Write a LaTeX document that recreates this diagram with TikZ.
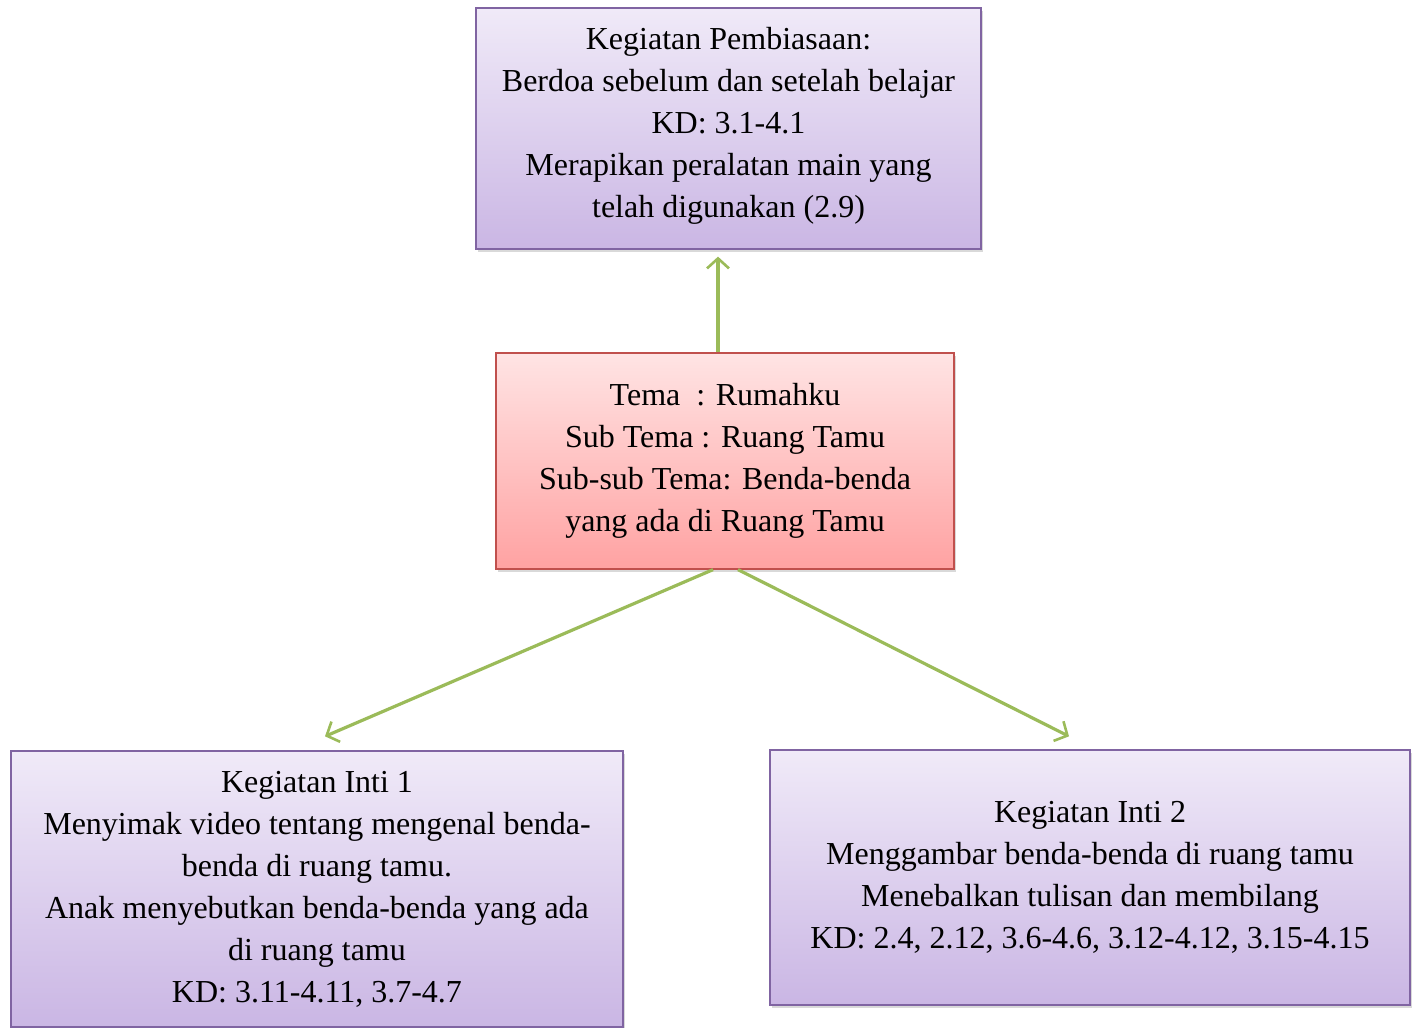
\documentclass[tikz,border=0pt]{standalone}
\usepackage{fontspec}
\setmainfont{Liberation Serif}
\usetikzlibrary{arrows.meta,shadows}
\definecolor{garisungu}{HTML}{8064A2}
\definecolor{ungumuda}{HTML}{F0EAF8}
\definecolor{ungutua}{HTML}{CAB6E4}
\definecolor{garismerah}{HTML}{C0504D}
\definecolor{merahmuda}{HTML}{FFE4E4}
\definecolor{merahtua}{HTML}{FFA2A2}
\definecolor{hijau}{HTML}{9BBB59}
\begin{document}
\begin{tikzpicture}[x=1pt,y=-1pt,
	kotak/.style={draw=garisungu,line width=1.3pt,top color=ungumuda,bottom color=ungutua,
		align=center,inner sep=0pt,font=\fontsize{32}{42}\selectfont,
		drop shadow={shadow xshift=2pt,shadow yshift=-3pt,opacity=0.3}},
	tema/.style={kotak,draw=garismerah,top color=merahmuda,bottom color=merahtua},
	panah/.style={draw=hijau,line width=3.2pt,-{Straight Barb[length=10pt,width=22pt,line width=2.6pt]}}
	]
	\useasboundingbox (0,0) rectangle (1419,1028);
	
	\node[kotak,minimum width=505pt,minimum height=241pt,text depth=12pt] (atas) at (728.5,128.5)
	{Kegiatan Pembiasaan:\\Berdoa sebelum dan setelah belajar\\KD: 3.1-4.1\\Merapikan peralatan main yang\\telah digunakan (2.9)};
	\node[tema,minimum width=458pt,minimum height=216pt] (pusat) at (725,461)
	{Tema~~: Rumahku\\Sub Tema : Ruang Tamu\\Sub-sub Tema: Benda-benda\\yang ada di Ruang Tamu};
	\node[kotak,minimum width=612pt,minimum height=276pt] (inti1) at (317,889)
	{Kegiatan Inti 1\\Menyimak video tentang mengenal benda-\\benda di ruang tamu.\\Anak menyebutkan benda-benda yang ada\\di ruang tamu\\KD: 3.11-4.11, 3.7-4.7};
	\node[kotak,minimum width=640pt,minimum height=255pt] (inti2) at (1090,877.5)
	{Kegiatan Inti 2\\Menggambar benda-benda di ruang tamu\\Menebalkan tulisan dan membilang\\KD: 2.4, 2.12, 3.6-4.6, 3.12-4.12, 3.15-4.15};
	
	\draw[panah] ([xshift=-7pt]pusat.north) -- ([xshift=-10.5pt,yshift=-7pt]atas.south);
	\draw[panah] ([xshift=-12pt]pusat.south) -- ([xshift=8pt,yshift=14pt]inti1.north);
	\draw[panah] ([xshift=13pt]pusat.south) -- ([xshift=-21pt,yshift=13pt]inti2.north);
\end{tikzpicture}
\end{document}
